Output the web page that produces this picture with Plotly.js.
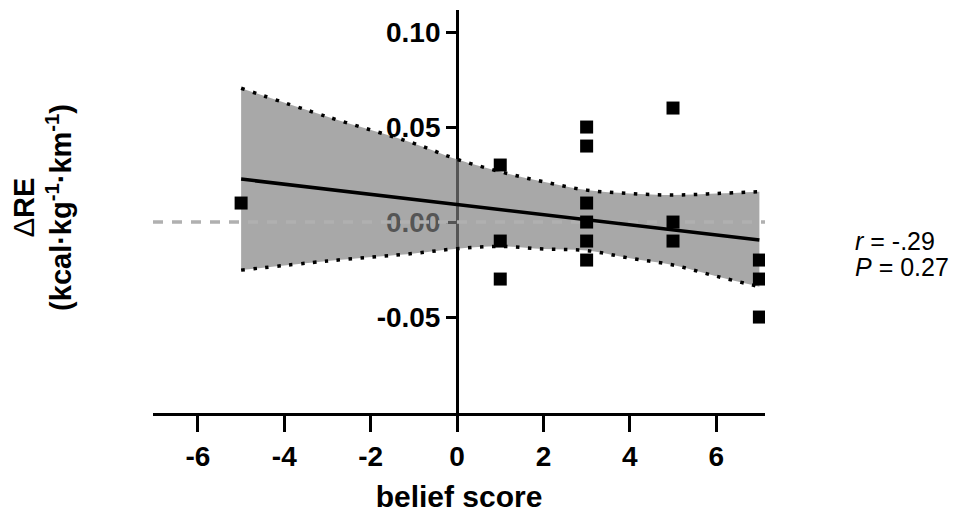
<!DOCTYPE html>
<html>
<head>
<meta charset="utf-8">
<script src="https://cdn.plot.ly/plotly-3.0.1.min.js"></script>
<style>
  html, body { margin: 0; padding: 0; background: #fff; }
  #chart { width: 960px; height: 516px; }
</style>
</head>
<body>
<div id="chart"></div>
<script>
// Individual observations: belief score vs change in running economy
const beliefScore = [-5, 1, 1, 1, 3, 3, 3, 3, 3, 3, 5, 5, 5, 7, 7, 7];
const deltaRE = [0.01, 0.03, -0.01, -0.03, 0.05, 0.04, 0.01, 0.00, -0.01, -0.02, 0.06, 0.00, -0.01, -0.02, -0.03, -0.05];

// Regression line end points
const fitX = [-5, 7];
const fitY = [0.0226, -0.0095];

// 95% confidence band of the regression
const bandX = [-5, -3, -1, 0, 1, 2, 3, 4, 5, 6, 7];
const bandUpper = [0.0704, 0.0554, 0.0414, 0.0330, 0.0265, 0.0212, 0.0168, 0.0150, 0.0142, 0.0150, 0.0160];
const bandLower = [-0.0253, -0.0205, -0.0165, -0.0140, -0.0128, -0.0142, -0.0150, -0.0190, -0.0226, -0.0285, -0.0340];

// Axis ticks
const xTickVals = [-6, -4, -2, 0, 2, 4, 6];
const xTickText = ['-6', '-4', '-2', '0', '2', '4', '6'];
const yTickVals = [-0.05, 0, 0.05, 0.10];
const yTickText = ['-0.05', '0.00', '0.05', '0.10'];

// Statistics shown beside the plot
const statR = '-.29';
const statP = '0.27';

const xRange = [-7.04, 7.13];
const yRange = [-0.1005, 0.1116];
const refY = 0;

const FONT = 'Arial, "Liberation Sans", Helvetica, sans-serif';
const xDomain = [0, 1];
// y axis sits on x = 0
const yAxisPos = xDomain[0] + (0 - xRange[0]) / (xRange[1] - xRange[0]) * (xDomain[1] - xDomain[0]);

const bandLine = { color: '#000', width: 3.5, dash: '3.5px,8.5px', shape: 'spline', smoothing: 1 };

const traces = [
  {
    x: bandX, y: bandLower, type: 'scatter', mode: 'lines',
    line: bandLine, hoverinfo: 'skip', showlegend: false
  },
  {
    x: bandX, y: bandUpper, type: 'scatter', mode: 'lines',
    line: bandLine, fill: 'tonexty', fillcolor: 'rgba(126,126,126,0.675)',
    hoverinfo: 'skip', showlegend: false
  },
  {
    x: xRange, y: [refY, refY], type: 'scatter', mode: 'lines',
    line: { color: 'rgb(176,176,176)', width: 3.5, dash: '10px,9px' },
    hoverinfo: 'skip', showlegend: false
  },
  {
    x: fitX, y: fitY, type: 'scatter', mode: 'lines',
    line: { color: '#000', width: 3.5 }, showlegend: false
  },
  {
    x: beliefScore, y: deltaRE, type: 'scatter', mode: 'markers',
    marker: { symbol: 'square', size: 13, color: '#000' }, showlegend: false
  }
];

const layout = {
  width: 960, height: 516,
  margin: { l: 153, r: 195, t: 10, b: 103 },
  paper_bgcolor: '#fff', plot_bgcolor: 'rgba(0,0,0,0)',
  font: { family: FONT, color: '#000' },
  xaxis: {
    domain: xDomain, range: xRange, autorange: false,
    tickvals: xTickVals, ticktext: xTickText,
    ticks: 'outside', ticklen: 16, tickwidth: 3, tickcolor: '#000',
    showline: true, linewidth: 3, linecolor: '#000',
    showgrid: false, zeroline: false,
    tickfont: { family: FONT, size: 28, weight: 'bold', color: '#000' },
    title: { text: 'belief score', font: { family: FONT, size: 30, weight: 'bold', color: '#000' }, standoff: 16 }
  },
  yaxis: {
    range: yRange, autorange: false, anchor: 'free', position: yAxisPos,
    layer: 'below traces',
    tickvals: yTickVals, ticktext: yTickText,
    ticks: 'outside', ticklen: 10, tickwidth: 3, tickcolor: '#000',
    showline: true, linewidth: 3, linecolor: '#000',
    showgrid: false, zeroline: false,
    tickfont: { family: FONT, size: 28, weight: 'bold', color: '#000' }
  },
  annotations: [
    {
      xref: 'paper', yref: 'paper', x: -0.18, y: 0.511,
      xanchor: 'center', yanchor: 'middle', textangle: -90, showarrow: false,
      text: '<span style="font-weight:normal">Δ</span>RE<br>(kcal·kg<sup>-1</sup>·km<sup>-1</sup>)',
      font: { family: FONT, size: 29, weight: 'bold', color: '#000' }
    },
    {
      xref: 'paper', yref: 'paper', x: 1.1438, y: 0.4268,
      xanchor: 'left', yanchor: 'middle', showarrow: false,
      text: '<i>r</i> = ' + statR,
      font: { family: FONT, size: 25, color: '#000' }
    },
    {
      xref: 'paper', yref: 'paper', x: 1.1438, y: 0.3623,
      xanchor: 'left', yanchor: 'middle', showarrow: false,
      text: '<i>P</i> = ' + statP,
      font: { family: FONT, size: 25, color: '#000' }
    }
  ]
};

Plotly.newPlot('chart', traces, layout, { displayModeBar: false, staticPlot: true });
</script>
</body>
</html>
